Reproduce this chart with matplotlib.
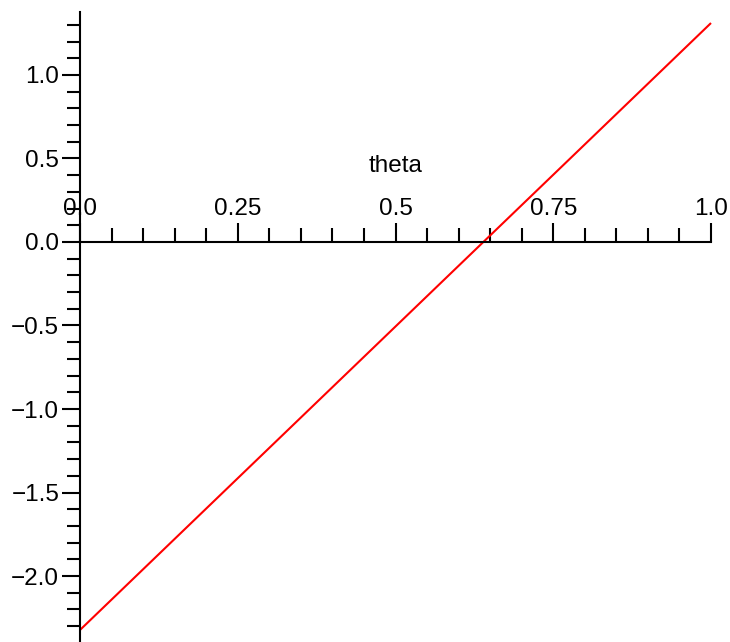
import matplotlib
matplotlib.use("Agg")
import matplotlib.pyplot as plt
from matplotlib.ticker import MultipleLocator, FuncFormatter

# data (straight line, two end points)
theta = [0.0, 1.0]
value = [-2.323, 1.311]

x_major = [0.0, 0.25, 0.5, 0.75, 1.0]
x_labels = ["0.0", "0.25", "0.5", "0.75", "1.0"]
y_major = [-2.0, -1.5, -1.0, -0.5, 0.0, 0.5, 1.0]

plt.rcParams['font.family'] = ['Liberation Sans', 'DejaVu Sans']

fig = plt.figure(figsize=(7.30, 6.42), dpi=100)
ax = fig.add_axes([80 / 730, 0.0, 631 / 730, 630 / 642])

ax.plot(theta, value, color="red", lw=1.5, solid_capstyle="butt", clip_on=False)

ax.set_xlim(0, 1)
ax.set_ylim(-2.395, 1.377)

# axes through the origin
for s in ["right", "bottom"]:
    ax.spines[s].set_visible(False)
ax.spines["left"].set_position(("data", 0))
ax.spines["top"].set_position(("data", 0))
ax.spines["left"].set_linewidth(1.5)
ax.spines["top"].set_linewidth(1.5)

ax.xaxis.set_ticks_position("top")
ax.set_xticks(x_major)
ax.set_xticklabels(x_labels)
ax.xaxis.set_minor_locator(MultipleLocator(0.05))
ax.set_yticks(y_major)
ax.yaxis.set_major_formatter(FuncFormatter(lambda v, p: f"{v:.1f}".replace("-", "\u2212")))
ax.yaxis.set_minor_locator(MultipleLocator(0.1))

ax.tick_params(axis="x", which="major", direction="out", length=14, width=1.5,
               pad=2, labelsize=17.5)
ax.tick_params(axis="x", which="minor", direction="out", length=10, width=1.5)
ax.tick_params(axis="y", which="major", direction="out", length=13, width=1.5,
               pad=2, labelsize=17.5)
ax.tick_params(axis="y", which="minor", direction="out", length=9.5, width=1.5)

ax.text(0.5, 0.452, "theta", fontsize=17.5, ha="center", va="center")

fig.savefig("out.png", dpi=100)
